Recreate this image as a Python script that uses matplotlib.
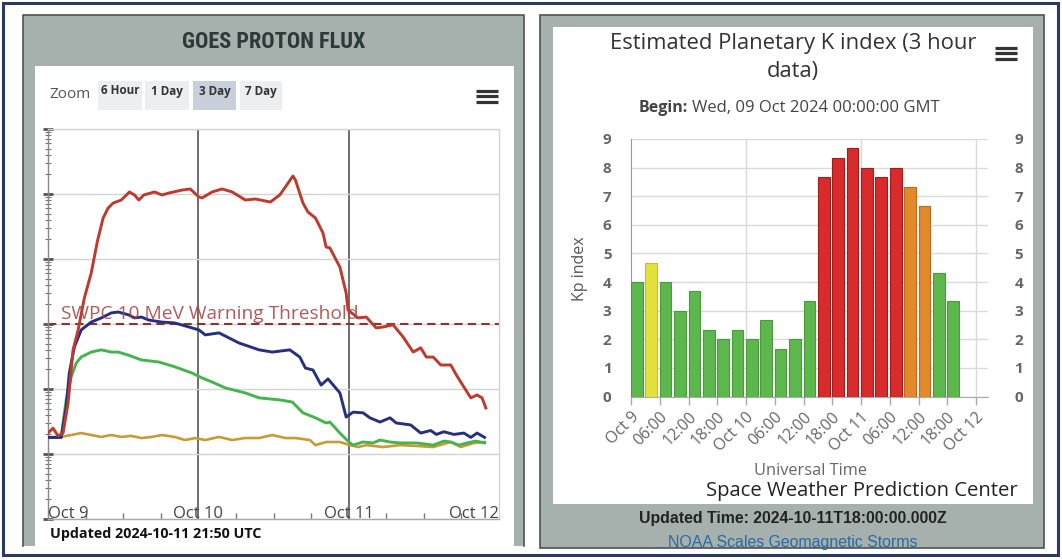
import matplotlib
matplotlib.use("Agg")
import matplotlib.pyplot as plt
from matplotlib.patches import Rectangle
from matplotlib.ticker import LogLocator, NullFormatter, FixedLocator
from matplotlib.transforms import blended_transform_factory

plt.rcParams['font.family'] = ['Open Sans', 'DejaVu Sans']

# ---------------- GOES proton flux (hours since 2024-10-09 00:00 UTC, pfu) -------------
red_hours = [0.0, 0.8, 1.6, 2.4, 3.2, 4.0, 4.8, 5.8, 6.9, 7.9, 8.8, 9.6, 10.4, 11.7, 13.0, 13.8,
             14.5, 15.3, 17.0, 18.2, 19.3, 21.4, 22.7, 24.1, 24.6, 26.2, 27.8, 29.4, 31.5, 33.1,
             35.5, 37.0, 37.9, 39.1, 39.5, 40.7, 41.5, 42.7, 43.9, 44.4, 45.0, 46.6, 47.6, 47.9,
             49.5, 50.8, 52.4, 53.5, 55.1, 56.7, 58.3, 59.5, 60.4, 61.5, 62.7, 64.3, 65.2, 66.4,
             67.5, 68.5, 69.3, 69.9]
red_flux = [0.21, 0.25, 0.19, 0.21, 0.6, 4.0, 8.0, 25, 61, 190, 427, 609, 725, 808, 1075, 966,
            808, 966, 1075, 966, 1036, 1150, 1194, 900, 870, 1075, 1194, 1075, 808, 838,
            753, 966, 1283, 1890, 1640, 727, 528, 427, 251, 153, 148, 75, 30, 16.4,
            12.4, 12.8, 8.7, 9.0, 9.7, 6.3, 3.7, 4.3, 3.1, 3.1, 2.34, 2.34, 1.64, 1.07,
            0.73, 0.81, 0.73, 0.51]

blue_hours = [0.0, 1.3, 2.1, 2.9, 3.4, 4.2, 5.3, 6.9, 8.5, 10.1, 11.2, 12.9, 13.8, 14.9, 16.1,
              18.2, 20.2, 22.5, 24.1, 25.1, 27.3, 30.5, 33.7, 35.8, 38.6, 40.2, 41.1, 42.3, 43.6,
              44.7, 46.6, 47.6, 48.7, 50.3, 51.4, 53.0, 54.6, 55.6, 57.9, 59.5, 61.1, 62.0, 63.2,
              64.8, 66.4, 67.5, 68.5, 69.7]
blue_flux = [0.18, 0.18, 0.18, 0.53, 1.76, 4.4, 8.1, 10.7, 12.4, 14.8, 15.3, 13.8, 12.4, 12.8, 11.5,
             10.7, 10.4, 9.0, 8.1, 6.8, 7.3, 5.1, 4.0, 3.7, 4.0, 3.1, 2.1, 1.96, 1.15,
             1.43, 0.87, 0.37, 0.44, 0.43, 0.36, 0.31, 0.36, 0.30, 0.28, 0.21, 0.23, 0.20, 0.22,
             0.20, 0.21, 0.18, 0.21, 0.18]

green_hours = [0.0, 1.3, 2.1, 2.9, 3.7, 4.5, 5.3, 6.9, 8.5, 10.1, 11.2, 12.9, 14.9, 17.7, 20.2,
               23.0, 24.6, 26.2, 28.3, 31.5, 33.7, 37.0, 39.0, 40.7, 42.7, 44.4, 45.0, 46.6, 48.2,
               48.7, 50.3, 51.9, 53.0, 54.6, 56.2, 58.8, 61.5, 63.2, 64.3, 65.6, 66.9, 68.3, 69.7]
green_flux = [0.18, 0.18, 0.18, 0.68, 1.53, 2.5, 3.1, 3.7, 4.0, 3.7, 3.7, 3.3, 2.8, 2.6, 2.2,
              1.76, 1.48, 1.28, 1.04, 0.87, 0.73, 0.68, 0.63, 0.43, 0.36, 0.30, 0.31, 0.21, 0.148,
              0.137, 0.153, 0.148, 0.164, 0.153, 0.148, 0.148, 0.137, 0.158, 0.153, 0.137, 0.148,
              0.158, 0.148]

orange_hours = [0.0, 1.0, 2.1, 3.7, 5.3, 6.9, 8.5, 10.1, 11.7, 13.3, 14.9, 16.6, 18.2, 20.2, 21.9,
                23.5, 25.1, 27.3, 29.4, 31.5, 33.7, 35.8, 37.9, 39.5, 41.8, 42.7, 44.4, 46.6, 48.2,
                49.5, 50.8, 53.5, 56.2, 58.8, 61.5, 64.3, 65.9, 68.0, 69.7]
orange_flux = [0.176, 0.183, 0.183, 0.196, 0.21, 0.196, 0.183, 0.196, 0.183, 0.19, 0.176, 0.183,
               0.196, 0.183, 0.164, 0.176, 0.164, 0.183, 0.164, 0.176, 0.176, 0.196, 0.176, 0.176,
               0.164, 0.137, 0.153, 0.153, 0.137, 0.128, 0.137, 0.128, 0.137, 0.133, 0.128, 0.153,
               0.128, 0.148, 0.153]

threshold_pfu = 10
proton_day_labels = ['Oct 9', 'Oct 10', 'Oct 11', 'Oct 12']
proton_day_hours = [0, 24, 48, 72]

# ---------------- Estimated planetary Kp (3-hour bins) -------------
kp_start_hours = [0, 3, 6, 9, 12, 15, 18, 21, 24, 27, 30, 33, 36, 39, 42, 45, 48, 51, 54, 57,
                  60, 63, 66]
kp_values = [4.0, 4.67, 4.0, 3.0, 3.67, 2.33, 2.0, 2.33, 2.0, 2.67, 1.67, 2.0, 3.33,
             7.67, 8.33, 8.67, 8.0, 7.67, 8.0, 7.33, 6.67, 4.33, 3.33]
kp_levels = ['green', 'yellow', 'green', 'green', 'green', 'green', 'green', 'green', 'green',
             'green', 'green', 'green', 'green', 'red', 'red', 'red', 'red', 'red', 'red',
             'orange', 'orange', 'green', 'green']
kp_tick_hours = [0, 6, 12, 18, 24, 30, 36, 42, 48, 54, 60, 66, 72]
kp_tick_labels = ['Oct 9', '06:00', '12:00', '18:00', 'Oct 10', '06:00', '12:00', '18:00',
                  'Oct 11', '06:00', '12:00', '18:00', 'Oct 12']

# ---------------- figure ----------------
W, H = 1062, 560
fig = plt.figure(figsize=(W / 100, H / 100), dpi=100)
fig.patch.set_facecolor('white')

bg = fig.add_axes([0, 0, 1, 1], zorder=0)
bg.set_xlim(0, W)
bg.set_ylim(H, 0)
bg.axis('off')


def box(l, t, r, b, **kw):
    return fig.add_axes([l / W, 1 - b / H, (r - l) / W, (b - t) / H], **kw)


FRAME = '#a6b0ac'
EDGE = '#4a5552'

# outer navy border
bg.add_patch(Rectangle((3, 3), 1055, 552, fill=False, edgecolor='#2a3868', lw=2.2))

# left panel frame
bg.add_patch(Rectangle((23, 15), 501, 531, facecolor=FRAME, edgecolor='none'))
bg.plot([23, 23, 524, 524], [546, 15, 15, 546], color=EDGE, lw=1.2)
bg.add_patch(Rectangle((35, 66), 479, 480, facecolor='white', edgecolor='none'))
bg.text(274, 42, 'GOES PROTON FLUX', ha='center', va='center', fontsize=16,
        family=['Liberation Sans Narrow', 'Roboto Condensed', 'DejaVu Sans'],
        fontstretch='condensed', weight='bold', color='#2c3b38')

# zoom buttons
bg.text(49, 95, 'Zoom', ha='left', va='center', fontsize=11, color='#555555')
for (bx, bw, lab, col) in [(98, 44, '6 Hour', '#eceef0'), (145, 44, '1 Day', '#eceef0'),
                           (193, 43, '3 Day', '#c9d0dc'), (240, 42, '7 Day', '#eceef0')]:
    bg.add_patch(Rectangle((bx, 81), bw, 29, facecolor=col, edgecolor='none'))
    bg.text(bx + bw / 2, 91, lab, ha='center', va='center', fontsize=8.4,
            weight='bold', color='#333333')
for yy in (90.5, 96, 101.5):
    bg.plot([476, 498], [yy, yy], color='#333333', lw=2.3, solid_capstyle='butt')

# right panel frame
bg.add_patch(Rectangle((540, 15), 504, 533, facecolor=FRAME, edgecolor=EDGE, lw=1.2))
bg.add_patch(Rectangle((553, 27), 480, 477, facecolor='white', edgecolor='none'))
for yy in (47.5, 53, 58.5):
    bg.plot([995, 1017], [yy, yy], color='#333333', lw=2.3, solid_capstyle='butt')

# ---------------- proton flux axes ----------------
pax = box(48, 129, 499, 519, zorder=2)
pax.set_facecolor('white')
pax.set_yscale('log')
pax.set_xlim(0, 72)
pax.set_ylim(1e-2, 1e4)
pax.yaxis.set_major_locator(LogLocator(base=10, numticks=10))
pax.yaxis.set_minor_locator(LogLocator(base=10, subs=range(2, 10), numticks=12))
pax.yaxis.set_major_formatter(NullFormatter())
pax.yaxis.set_minor_formatter(NullFormatter())
pax.tick_params(axis='y', which='major', direction='inout', length=7, width=2, color='#555555')
pax.tick_params(axis='y', which='minor', direction='inout', length=4, width=0.8, color='#777777')
pax.xaxis.set_major_locator(FixedLocator(proton_day_hours))
pax.xaxis.set_minor_locator(FixedLocator([h for h in range(6, 72, 6) if h % 24]))
pax.tick_params(axis='x', which='major', length=0, labelbottom=False)
pax.tick_params(axis='x', which='minor', direction='in', length=4, width=1, color='#777777')
pax.grid(axis='y', which='major', color='#d3d3d3', lw=1)
for h in proton_day_hours[1:3]:
    pax.axvline(h, color='#6e6e6e', lw=1.4, zorder=1)
for side, col in [('left', '#888888'), ('bottom', '#aaaaaa'), ('top', '#d3d3d3'),
                  ('right', '#d3d3d3')]:
    pax.spines[side].set_color(col)
    pax.spines[side].set_linewidth(1)

pax.axhline(threshold_pfu, color='#8c3232', lw=1.5, ls=(0, (4, 2.5)), zorder=2)
pax.plot(orange_hours, orange_flux, color='#c99a35', lw=1.9, zorder=3)
pax.plot(green_hours, green_flux, color='#44b54e', lw=2.1, zorder=4)
pax.plot(blue_hours, blue_flux, color='#27307f', lw=2.1, zorder=5)
pax.plot(red_hours, red_flux, color='#bd3a2c', lw=2.1, zorder=6)
pax.text(61, 319, 'SWPC 10 MeV Warning Threshold', transform=bg.transData, ha='left',
         va='baseline', fontsize=13.8, color='#a84444', alpha=0.88, zorder=7, clip_on=False)

tr = blended_transform_factory(pax.transData, bg.transData)
for h, lab in zip(proton_day_hours, proton_day_labels):
    ha = 'left' if h == 0 else ('right' if h == 72 else 'center')
    pax.text(h, 518, lab, transform=tr, ha=ha, va='baseline', fontsize=12,
             color='#444444', zorder=8, clip_on=False)

bg.text(50, 534, 'Updated 2024-10-11 21:50 UTC', ha='left', va='center', fontsize=10.3,
        weight='bold', color='#111111')

# ---------------- Kp axes ----------------
KP_COLORS = {'green': '#5cb84c', 'yellow': '#e4e13a', 'red': '#d92b2b', 'orange': '#e2892c'}
KP_EDGES = {'green': '#4a9a3d', 'yellow': '#c2bf2a', 'red': '#9e1e1e', 'orange': '#b96c20'}

kax = box(631, 139, 988, 396.5, zorder=2)
kax.set_xlim(0, 74.5)
kax.set_ylim(0, 9)
kax.bar(kp_start_hours, kp_values, width=2.45, align='edge',
        color=[KP_COLORS[c] for c in kp_levels],
        edgecolor=[KP_EDGES[c] for c in kp_levels], lw=0.8, zorder=3)
kax.set_yticks(range(0, 10))
kax.grid(axis='y', color='#dadada', lw=1, zorder=0)
for h in (24, 48, 72):
    kax.axvline(h, color='#dadada', lw=1, zorder=0)
kax.set_axisbelow(True)
for s in ('top', 'right'):
    kax.spines[s].set_visible(False)
kax.spines['left'].set_color('#999999')
kax.spines['bottom'].set_color('#aaaaaa')
kax.tick_params(axis='y', length=0, pad=14, labelsize=11, labelcolor='#666666')
for t in kax.get_yticklabels():
    t.set_fontweight('bold')
kax.set_xticks(kp_tick_hours)
kax.set_xticklabels(kp_tick_labels, rotation=45, ha='right', rotation_mode='anchor')
kax.tick_params(axis='x', length=6, width=1, color='#aaaaaa', pad=3, labelsize=11.5,
                labelcolor='#666666')

kax2 = kax.twinx()
kax2.set_ylim(0, 9)
kax2.set_yticks(range(0, 10))
for s in kax2.spines.values():
    s.set_visible(False)
kax2.tick_params(axis='y', length=0, pad=19, labelsize=11, labelcolor='#666666')
for t in kax2.get_yticklabels():
    t.set_fontweight('bold')

bg.text(580, 269, 'Kp index', rotation=90, ha='center', va='center', fontsize=11.5,
        color='#555555')
bg.text(793, 43, 'Estimated Planetary K index (3 hour', ha='center', va='center',
        fontsize=15.8, color='#333333')
bg.text(793, 71, 'data)', ha='center', va='center', fontsize=15.8, color='#333333')
bg.text(688, 108, 'Begin:', ha='right', va='center', fontsize=11.5, weight='bold',
        color='#444444')
bg.text(692, 108, 'Wed, 09 Oct 2024 00:00:00 GMT', ha='left', va='center', fontsize=12,
        color='#444444')
bg.text(811, 471, 'Universal Time', ha='center', va='center', fontsize=11.8, color='#666666')
bg.text(1018, 491, 'Space Weather Prediction Center', ha='right', va='center', fontsize=14.6,
        color='#222222')
bg.text(793, 519, 'Updated Time: 2024-10-11T18:00:00.000Z', ha='center', va='center',
        fontsize=11.4, weight='bold', color='#222222', family='Liberation Sans')
bg.text(793, 542, 'NOAA Scales Geomagnetic Storms', ha='center', va='center', fontsize=11.4,
        color='#2a6aa8', family='Liberation Sans')

fig.savefig('out.png', dpi=100, facecolor='white')
